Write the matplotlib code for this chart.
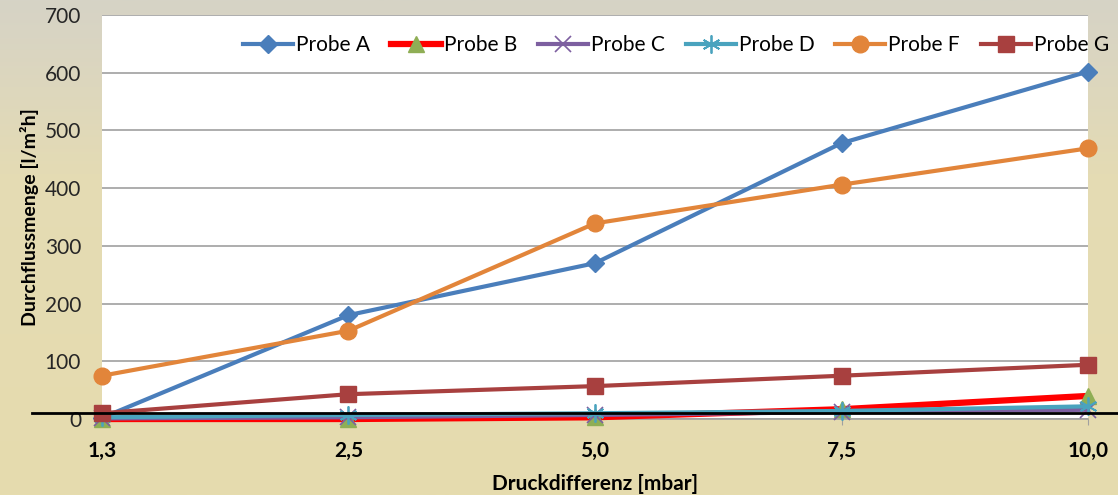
#!/usr/bin/env python3
"""Durchflussmenge vs Druckdifferenz for probes A-G (Excel style line chart)."""
import numpy as np
import matplotlib.pyplot as plt
from matplotlib.colors import LinearSegmentedColormap

FIG_SIZE = (11.18, 4.95)
DPI = 100
FONT = ["Lato", "DejaVu Sans"]

categories = ["1,3", "2,5", "5,0", "7,5", "10,0"]
probe_a = [2, 180, 270, 478, 602]
probe_b = [0, 0, 3, 17, 40]
probe_c = [1, 3, 7, 12, 16]
probe_d = [3, 7, 10, 14, 22]
probe_f = [75, 153, 339, 406, 469]
probe_g = [10, 43, 57, 75, 94]
y_ticks = [0, 100, 200, 300, 400, 500, 600, 700]

SERIES = [
    ("Probe A", probe_a, dict(color="#4a7ebb", lw=3.0, marker="D", ms=9, mfc="#4a7ebb", mec="#4a7ebb")),
    ("Probe B", probe_b, dict(color="#ff0000", lw=4.5, marker="^", ms=12, mfc="#8fae55", mec="#8fae55")),
    ("Probe C", probe_c, dict(color="#7d5fa0", lw=3.0, marker="x", ms=11, mew=1.2, mec="#7d5fa0")),
    ("Probe D", probe_d, dict(color="#4aa3be", lw=3.0, marker=(6, 2, 0), ms=13, mew=1.3, mec="#4aa3be")),
    ("Probe F", probe_f, dict(color="#e2853a", lw=3.0, marker="o", ms=12, mfc="#e2853a", mec="#e2853a")),
    ("Probe G", probe_g, dict(color="#a8403f", lw=3.0, marker="s", ms=11, mfc="#a8403f", mec="#a8403f")),
]

plt.rcParams["font.family"] = FONT

fig = plt.figure(figsize=FIG_SIZE, dpi=DPI)

# slide background gradient (grey-beige at top to sand below)
bg = fig.add_axes([0, 0, 1, 1], zorder=-10)
bg.axis("off")
cmap = LinearSegmentedColormap.from_list(
    "slide", [(0.0, "#d6d3c6"), (0.35, "#e4dbb4"), (1.0, "#e6dcae")])
grad = np.linspace(0, 1, 256).reshape(-1, 1)
bg.imshow(grad, aspect="auto", cmap=cmap, extent=[0, 1, 0, 1], origin="upper")

ax = fig.add_axes([0.0912, 0.1535, 0.882, 0.8162])
ax.set_facecolor("white")

x = np.arange(len(categories))
for label, values, style in SERIES:
    ax.plot(x, values, label=label, clip_on=False, zorder=3, **style)

ax.set_xlim(0, len(categories) - 1)
ax.set_ylim(0, 700)
ax.set_yticks(y_ticks)
ax.set_yticklabels([str(v) for v in y_ticks], fontsize=15, color="#262626")
ax.set_xticks(x)
ax.set_xticklabels(categories, fontsize=15, fontweight="bold", color="black")
ax.tick_params(axis="y", length=0, pad=15)
ax.tick_params(axis="x", length=4, color="#a0a0a0", pad=12)
ax.grid(axis="y", color="#a0a0a0", lw=1.2)
ax.set_axisbelow(True)
for side in ("top", "right", "left"):
    ax.spines[side].set_visible(False)
ax.spines["bottom"].set_color("#a0a0a0")
ax.spines["bottom"].set_linewidth(1.2)

# black guide line drawn across the slide just above zero
ax.axhline(10, xmin=-0.071, xmax=1.03, color="black", lw=2.0, clip_on=False, zorder=4)

ax.set_xlabel("Druckdifferenz [mbar]", fontsize=15, fontweight="bold")
ax.xaxis.set_label_coords(0.5, -0.135)
ax.set_ylabel("Durchflussmenge [l/m²h]", fontsize=14, fontweight="bold", labelpad=4)

ax.legend(loc="upper right", bbox_to_anchor=(1.03, 0.97), ncol=6, frameon=False,
          fontsize=15, handlelength=2.4, columnspacing=1.0, handletextpad=0.15,
          borderaxespad=0)

fig.savefig("out.png", dpi=DPI)
